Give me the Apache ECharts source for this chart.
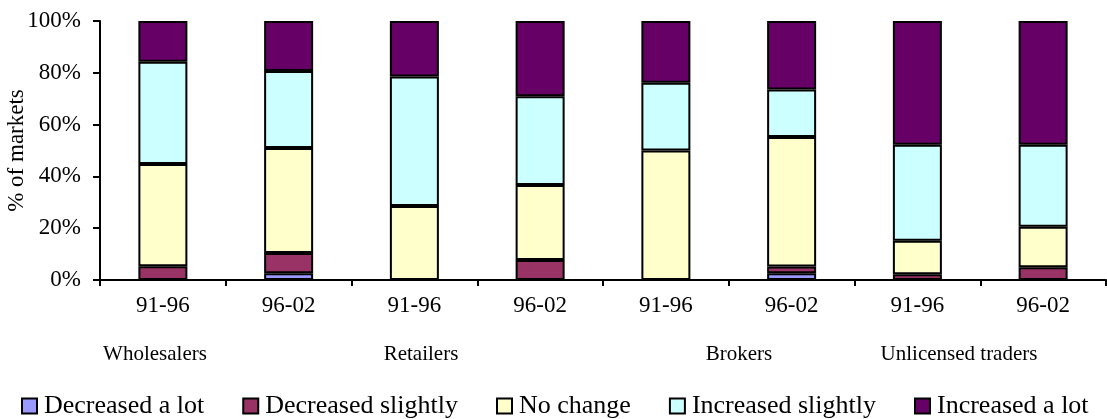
<!DOCTYPE html>
<html><head><meta charset="utf-8">
<script src="https://cdn.jsdelivr.net/npm/echarts@6/dist/echarts.min.js"></script>
<style>html,body{margin:0;padding:0;background:#fff}#c{width:1107px;height:419px}</style>
</head><body><div id="c"></div>
<script>
const periods = ['91-96','96-02','91-96','96-02','91-96','96-02','91-96','96-02'];
const groups = ['Wholesalers','Retailers','Brokers','Unlicensed traders'];
const seriesNames = ['Decreased a lot','Decreased slightly','No change','Increased slightly','Increased a lot'];
const decreasedALot     = [0,   2.6, 0,    0,    0,    2.6, 0,    0];
const decreasedSlightly = [5.3, 7.8, 0,    7.7,  0,    2.6, 2.2,  4.9];
const noChange          = [39.5,40.6,28.6, 29.0, 50.0, 50.0,13.0, 15.7];
const increasedSlightly = [39.5,29.7,50.0, 34.2, 26.2, 18.4,37.0, 31.6];
const increasedALot     = [15.7,19.3,21.4, 29.1, 23.8, 26.4,47.8, 47.8];
const yTicks = [0,20,40,60,80,100];

const colors = ['#9999FF','#993366','#FFFFCC','#CCFFFF','#660066'];
const values = [decreasedALot, decreasedSlightly, noChange, increasedSlightly, increasedALot];
const font = 'Liberation Serif';
const groupX = [155, 421, 739, 959];

const chart = echarts.init(document.getElementById('c'), null, {renderer:'canvas'});
chart.setOption({
  animation:false,
  backgroundColor:'#fff',
  grid:{left:100, right:1, top:21, bottom:139, containLabel:false, outerBoundsMode:'none'},
  xAxis:{type:'category', data:periods,
    axisLine:{lineStyle:{color:'#000', width:2}},
    axisTick:{show:true, length:6, lineStyle:{color:'#000', width:2}},
    axisLabel:{color:'#000', fontFamily:font, fontSize:23, margin:14}},
  yAxis:{type:'value', min:yTicks[0], max:yTicks[yTicks.length-1], interval:20,
    name:'% of markets', nameLocation:'middle', nameGap:72, nameRotate:90, nameMoveOverlap:false,
    nameTextStyle:{color:'#000', fontFamily:font, fontSize:23},
    axisLine:{show:true, lineStyle:{color:'#000', width:2}},
    axisTick:{show:true, length:7, lineStyle:{color:'#000', width:2}},
    splitLine:{show:false},
    axisLabel:{color:'#000', fontFamily:font, fontSize:23, margin:19, formatter:'{value}%'}},
  legend:{left:16, top:388, itemWidth:15, itemHeight:15, itemGap:38,
    icon:'rect',
    textStyle:{color:'#000', fontFamily:font, fontSize:26, padding:[0,0,0,2]},
    itemStyle:{borderColor:'#000', borderWidth:2},
    data:seriesNames},
  series: seriesNames.map((n,i)=>({
    name:n, type:'bar', stack:'total', data:values[i], barWidth:49,
    itemStyle:{color:colors[i], borderColor:'#000', borderWidth:2}
  })),
  graphic: groups.map((g,i)=>({type:'text', x:groupX[i], y:354,
    style:{text:g, fill:'#000', font:'21px "Liberation Serif"', textAlign:'center', textVerticalAlign:'middle'}}))
});
</script></body></html>
